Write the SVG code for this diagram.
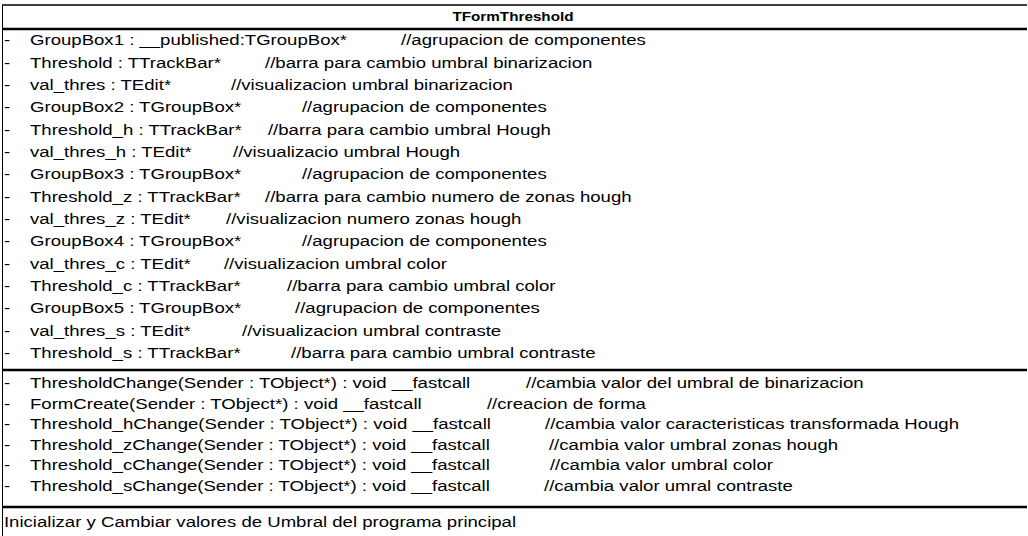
<svg xmlns="http://www.w3.org/2000/svg" width="1028" height="536" viewBox="0 0 1028 536">
  <style>
    .t { font-family: "Liberation Sans", Arial, sans-serif; font-size: 15px; fill: #000; }
    .h { font-family: "Liberation Sans", Arial, sans-serif; font-size: 12.3px; font-weight: bold; fill: #000; }
    .thin { stroke: #000; stroke-width: 1; fill: none; }
    .top { stroke: #000; stroke-width: 1.5; fill: none; }
    .thick { stroke: #000; stroke-width: 2.5; fill: none; }
  </style>
  <rect width="1028" height="536" fill="#fff"/>

  <!-- class box: left edge, top edge and compartment separators -->
  <g id="TFormThreshold">
    <line class="thin" x1="2.5" y1="5" x2="2.5" y2="536"/>
    <line class="top" x1="2" y1="5" x2="1027" y2="5"/>
    <line class="thick" x1="2" y1="29" x2="1027" y2="29"/>
    <line class="thick" x1="2" y1="370" x2="1027" y2="370"/>
    <line class="thick" x1="2" y1="507" x2="1027" y2="507"/>

    <!-- all labels use a horizontally widened face (x values are in scaled units) -->
    <g transform="scale(1.24 1)">
      <text class="h" x="413.7" y="21.5" text-anchor="middle">TFormThreshold</text>

      <!-- attributes -->
      <g id="attributes">
        <text class="t" x="3.2" y="45.2">-</text><text class="t" x="24.2" y="45.2">GroupBox1 : __published:TGroupBox*</text><text class="t" x="323.4" y="45.2">//agrupacion de componentes</text>
        <text class="t" x="3.2" y="67.6">-</text><text class="t" x="24.2" y="67.6">Threshold : TTrackBar*</text><text class="t" x="213.7" y="67.6">//barra para cambio umbral binarizacion</text>
        <text class="t" x="3.2" y="89.9">-</text><text class="t" x="24.2" y="89.9">val_thres : TEdit*</text><text class="t" x="186.3" y="89.9">//visualizacion umbral binarizacion</text>
        <text class="t" x="3.2" y="112.3">-</text><text class="t" x="24.2" y="112.3">GroupBox2 : TGroupBox*</text><text class="t" x="243.5" y="112.3">//agrupacion de componentes</text>
        <text class="t" x="3.2" y="134.6">-</text><text class="t" x="24.2" y="134.6">Threshold_h : TTrackBar*</text><text class="t" x="216.1" y="134.6">//barra para cambio umbral Hough</text>
        <text class="t" x="3.2" y="157">-</text><text class="t" x="24.2" y="157">val_thres_h : TEdit*</text><text class="t" x="187.9" y="157">//visualizacio umbral Hough</text>
        <text class="t" x="3.2" y="179.4">-</text><text class="t" x="24.2" y="179.4">GroupBox3 : TGroupBox*</text><text class="t" x="243.5" y="179.4">//agrupacion de componentes</text>
        <text class="t" x="3.2" y="201.7">-</text><text class="t" x="24.2" y="201.7">Threshold_z : TTrackBar*</text><text class="t" x="213.7" y="201.7">//barra para cambio numero de zonas hough</text>
        <text class="t" x="3.2" y="224.1">-</text><text class="t" x="24.2" y="224.1">val_thres_z : TEdit*</text><text class="t" x="182.3" y="224.1">//visualizacion numero zonas hough</text>
        <text class="t" x="3.2" y="246.4">-</text><text class="t" x="24.2" y="246.4">GroupBox4 : TGroupBox*</text><text class="t" x="243.5" y="246.4">//agrupacion de componentes</text>
        <text class="t" x="3.2" y="268.8">-</text><text class="t" x="24.2" y="268.8">val_thres_c : TEdit*</text><text class="t" x="180.6" y="268.8">//visualizacion umbral color</text>
        <text class="t" x="3.2" y="291.2">-</text><text class="t" x="24.2" y="291.2">Threshold_c : TTrackBar*</text><text class="t" x="231.5" y="291.2">//barra para cambio umbral color</text>
        <text class="t" x="3.2" y="313.5">-</text><text class="t" x="24.2" y="313.5">GroupBox5 : TGroupBox*</text><text class="t" x="237.9" y="313.5">//agrupacion de componentes</text>
        <text class="t" x="3.2" y="335.9">-</text><text class="t" x="24.2" y="335.9">val_thres_s : TEdit*</text><text class="t" x="195.2" y="335.9">//visualizacion umbral contraste</text>
        <text class="t" x="3.2" y="358.2">-</text><text class="t" x="24.2" y="358.2">Threshold_s : TTrackBar*</text><text class="t" x="234.7" y="358.2">//barra para cambio umbral contraste</text>
      </g>

      <!-- operations -->
      <g id="operations">
        <text class="t" x="3.2" y="388.2">-</text><text class="t" x="24.2" y="388.2">ThresholdChange(Sender : TObject*) : void __fastcall</text><text class="t" x="424.2" y="388.2">//cambia valor del umbral de binarizacion</text>
        <text class="t" x="3.2" y="408.7">-</text><text class="t" x="24.2" y="408.7">FormCreate(Sender : TObject*) : void __fastcall</text><text class="t" x="392.7" y="408.7">//creacion de forma</text>
        <text class="t" x="3.2" y="429.2">-</text><text class="t" x="24.2" y="429.2">Threshold_hChange(Sender : TObject*) : void __fastcall</text><text class="t" x="439.5" y="429.2">//cambia valor caracteristicas transformada Hough</text>
        <text class="t" x="3.2" y="449.7">-</text><text class="t" x="24.2" y="449.7">Threshold_zChange(Sender : TObject*) : void __fastcall</text><text class="t" x="442.7" y="449.7">//cambia valor umbral zonas hough</text>
        <text class="t" x="3.2" y="470.2">-</text><text class="t" x="24.2" y="470.2">Threshold_cChange(Sender : TObject*) : void __fastcall</text><text class="t" x="443.5" y="470.2">//cambia valor umbral color</text>
        <text class="t" x="3.2" y="490.7">-</text><text class="t" x="24.2" y="490.7">Threshold_sChange(Sender : TObject*) : void __fastcall</text><text class="t" x="438.7" y="490.7">//cambia valor umral contraste</text>
      </g>

      <!-- responsibility -->
      <text class="t" x="3.2" y="527">Inicializar y Cambiar valores de Umbral del programa principal</text>
    </g>
  </g>
</svg>
